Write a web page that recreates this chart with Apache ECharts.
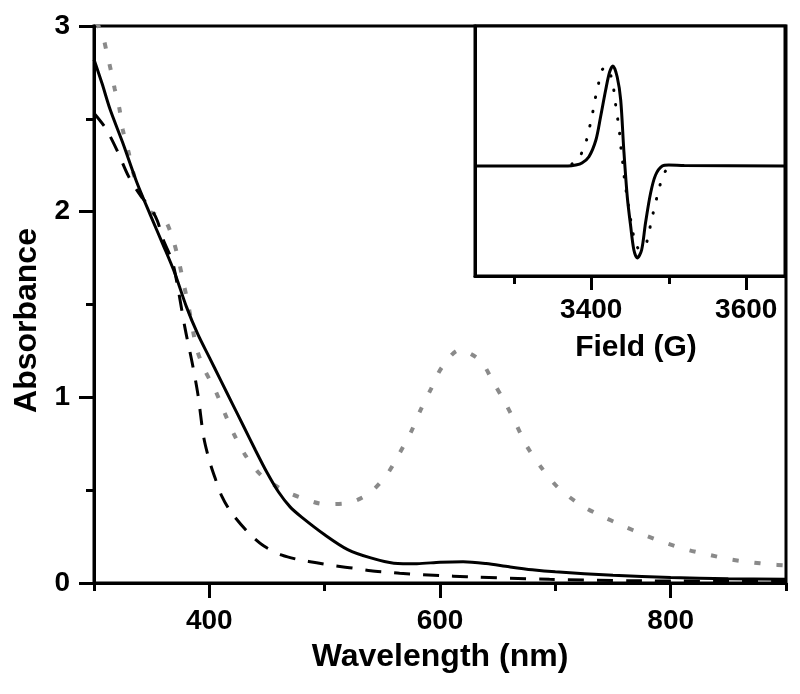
<!DOCTYPE html>
<html>
<head>
<meta charset="utf-8">
<script src="https://cdn.jsdelivr.net/npm/echarts@6/dist/echarts.min.js"></script>
<style>
html,body{margin:0;padding:0;background:#fff;}
#chart{width:800px;height:694px;}
</style>
</head>
<body>
<div id="chart"></div>
<script>
// ---- Main UV-vis data ----
const solidWl  = [300, 307, 314, 325, 337, 349, 360, 370, 380, 390, 400, 410, 420, 430, 440, 450, 460, 470, 480, 500, 520, 540, 560, 580, 600, 620, 640, 660, 680, 700, 750, 800, 850, 900];
const solidAbs = [2.82, 2.69, 2.55, 2.37, 2.16, 1.98, 1.82, 1.67, 1.49, 1.34, 1.215, 1.09, 0.965, 0.84, 0.715, 0.595, 0.49, 0.41, 0.355, 0.26, 0.18, 0.135, 0.107, 0.104, 0.112, 0.115, 0.105, 0.087, 0.071, 0.06, 0.042, 0.03, 0.023, 0.02];

const dashedWl  = [300, 310, 320, 330, 340, 350, 355, 360, 368, 373, 379, 385, 390, 395, 400, 405, 411, 419, 434, 447, 463, 479, 493, 509, 525, 540, 555, 565, 600, 623, 695, 767, 900];
const dashedAbs = [2.53, 2.45, 2.33, 2.19, 2.09, 2.01, 1.95, 1.85, 1.73, 1.58, 1.37, 1.19, 1.02, 0.79, 0.66, 0.565, 0.465, 0.38, 0.27, 0.20, 0.15, 0.124, 0.109, 0.092, 0.08, 0.066, 0.058, 0.052, 0.04, 0.034, 0.02, 0.012, 0.008];

const dottedWl  = [302, 307, 311, 315, 318, 322, 325, 330, 334, 340, 349, 355, 362, 369, 374, 378, 382, 389, 396, 405, 413, 421, 431, 445, 464, 481, 500, 519, 538, 554, 565, 575, 583, 592, 601.5, 617, 635, 646, 656.5, 666, 675, 687.5, 702, 721, 739, 758, 776, 795, 813, 831, 850, 868, 887, 900];
const dottedAbs = [3.02, 2.96, 2.86, 2.75, 2.66, 2.556, 2.44, 2.32, 2.21, 2.10, 2.0, 1.98, 1.95, 1.84, 1.72, 1.605, 1.49, 1.264, 1.147, 1.04, 0.92, 0.806, 0.69, 0.58, 0.50, 0.456, 0.425, 0.43, 0.48, 0.585, 0.70, 0.815, 0.93, 1.043, 1.16, 1.255, 1.197, 1.084, 0.971, 0.855, 0.74, 0.625, 0.516, 0.424, 0.364, 0.31, 0.262, 0.217, 0.181, 0.155, 0.129, 0.113, 0.10, 0.095];

const mainXLabels = [400, 600, 800];
const mainXMinor  = [300, 500, 700, 900];

// ---- Inset EPR data ----
const eprSolidField  = [3250, 3370, 3380, 3388, 3397, 3406, 3412, 3418.6, 3423.7, 3428, 3433.5, 3438, 3442, 3446.5, 3451, 3455, 3459.4, 3465, 3470, 3476.6, 3483, 3491.6, 3500, 3520, 3650];
const eprSolidSignal = [0, 0, 0.01, 0.03, 0.093, 0.26, 0.49, 0.76, 0.94, 1.0, 0.89, 0.66, 0.16, -0.31, -0.61, -0.84, -0.92, -0.84, -0.57, -0.27, -0.09, 0, 0.01, 0.005, 0];

const eprDottedField  = [3375, 3383, 3392, 3397, 3401.3, 3404.8, 3409, 3414, 3419, 3425, 3429.3, 3431.5, 3434.5, 3437, 3438.7, 3441, 3443, 3447.5, 3452, 3456.4, 3462, 3469.3, 3474.5, 3478.7, 3483, 3488, 3495, 3502];
const eprDottedSignal = [0.02, 0.067, 0.21, 0.36, 0.51, 0.66, 0.81, 0.96, 0.99, 0.91, 0.75, 0.61, 0.45, 0.30, 0.15, 0.01, -0.14, -0.37, -0.59, -0.75, -0.83, -0.81, -0.66, -0.51, -0.37, -0.21, -0.06, 0];

const insetXLabels = [3400, 3600];
const insetXMinor  = [3300, 3500];

const pair = (xs, ys) => xs.map((x, i) => [x, ys[i]]);

const FONT = "'Liberation Sans', Arial, sans-serif";
const lab = (size) => ({ color: '#000', fontSize: size, fontWeight: 'bold', fontFamily: FONT });
const plain = (v) => String(v);

const chart = echarts.init(document.getElementById('chart'), null, { renderer: 'canvas' });

chart.setOption({
  animation: false,
  backgroundColor: '#fff',
  grid: [
    { left: 94, right: 14, top: 26, bottom: 111, show: true, borderColor: '#000', borderWidth: 3, backgroundColor: 'transparent' },
    { left: 475, top: 26, width: 310, height: 250, show: true, borderColor: '#000', borderWidth: 3, backgroundColor: '#fff', z: 5 }
  ],
  xAxis: [
    {
      gridIndex: 0, type: 'value', min: 300, max: 900, position: 'bottom',
      axisLine: { show: true, onZero: false, lineStyle: { color: '#000', width: 3 } },
      axisTick: { show: true, customValues: mainXLabels, length: 15, lineStyle: { color: '#000', width: 3 } },
      axisLabel: Object.assign({ customValues: mainXLabels, margin: 24, formatter: plain }, lab(28)),
      splitLine: { show: false },
      name: 'Wavelength (nm)', nameLocation: 'middle', nameGap: 58,
      nameTextStyle: lab(32)
    },
    {
      gridIndex: 0, type: 'value', min: 300, max: 900, position: 'bottom',
      axisLine: { show: false, onZero: false },
      axisTick: { show: true, customValues: mainXMinor, length: 8, lineStyle: { color: '#000', width: 3 } },
      axisLabel: { show: false },
      splitLine: { show: false }
    },
    {
      gridIndex: 1, type: 'value', min: 3250, max: 3650, position: 'bottom',
      axisLine: { show: true, onZero: false, lineStyle: { color: '#000', width: 3 } },
      axisTick: { show: true, customValues: insetXLabels, length: 14, lineStyle: { color: '#000', width: 3 } },
      axisLabel: Object.assign({ customValues: insetXLabels, margin: 20, formatter: plain }, lab(28)),
      splitLine: { show: false },
      name: 'Field (G)', nameLocation: 'middle', nameGap: 57,
      nameTextStyle: Object.assign({ padding: [0, 0, 0, 12] }, lab(30)),
      z: 6
    },
    {
      gridIndex: 1, type: 'value', min: 3250, max: 3650, position: 'bottom',
      axisLine: { show: false, onZero: false },
      axisTick: { show: true, customValues: insetXMinor, length: 8, lineStyle: { color: '#000', width: 3 } },
      axisLabel: { show: false },
      splitLine: { show: false },
      z: 6
    }
  ],
  yAxis: [
    {
      gridIndex: 0, type: 'value', min: 0, max: 3, interval: 1, position: 'left',
      axisLine: { show: true, onZero: false, lineStyle: { color: '#000', width: 3 } },
      axisTick: { show: true, length: 15, lineStyle: { color: '#000', width: 3 } },
      minorTick: { show: true, splitNumber: 2, length: 8, lineStyle: { color: '#000', width: 3 } },
      axisLabel: Object.assign({ margin: 24 }, lab(28)),
      splitLine: { show: false },
      minorSplitLine: { show: false },
      name: 'Absorbance', nameLocation: 'middle', nameGap: 48,
      nameTextStyle: Object.assign({ padding: [0, 32, 0, 0] }, lab(32))
    },
    {
      gridIndex: 1, type: 'value', min: -1.1, max: 1.4, position: 'left',
      axisLine: { show: true, onZero: false, lineStyle: { color: '#000', width: 3 } },
      axisTick: { show: false },
      axisLabel: { show: false },
      splitLine: { show: false },
      z: 6
    }
  ],
  series: [
    {
      type: 'line', xAxisIndex: 0, yAxisIndex: 0, data: pair(dottedWl, dottedAbs),
      showSymbol: false, symbol: 'none', smooth: 0.3, silent: true,
      lineStyle: { color: '#8a8a8a', width: 4, type: [6, 16] }
    },
    {
      type: 'line', xAxisIndex: 0, yAxisIndex: 0, data: pair(dashedWl, dashedAbs),
      showSymbol: false, symbol: 'none', smooth: 0.3, silent: true,
      lineStyle: { color: '#000', width: 3, type: [16, 13] }
    },
    {
      type: 'line', xAxisIndex: 0, yAxisIndex: 0, data: pair(solidWl, solidAbs),
      showSymbol: false, symbol: 'none', smooth: 0.3, silent: true,
      lineStyle: { color: '#000', width: 3 }
    },
    {
      type: 'line', xAxisIndex: 2, yAxisIndex: 1, data: pair(eprDottedField, eprDottedSignal),
      showSymbol: false, symbol: 'none', smooth: 0.3, silent: true, z: 7,
      lineStyle: { color: '#000', width: 3, type: [0.5, 14], cap: 'round' }
    },
    {
      type: 'line', xAxisIndex: 2, yAxisIndex: 1, data: pair(eprSolidField, eprSolidSignal),
      showSymbol: false, symbol: 'none', smooth: 0.3, silent: true, z: 8,
      lineStyle: { color: '#000', width: 3 }
    }
  ]
});
</script>
</body>
</html>
